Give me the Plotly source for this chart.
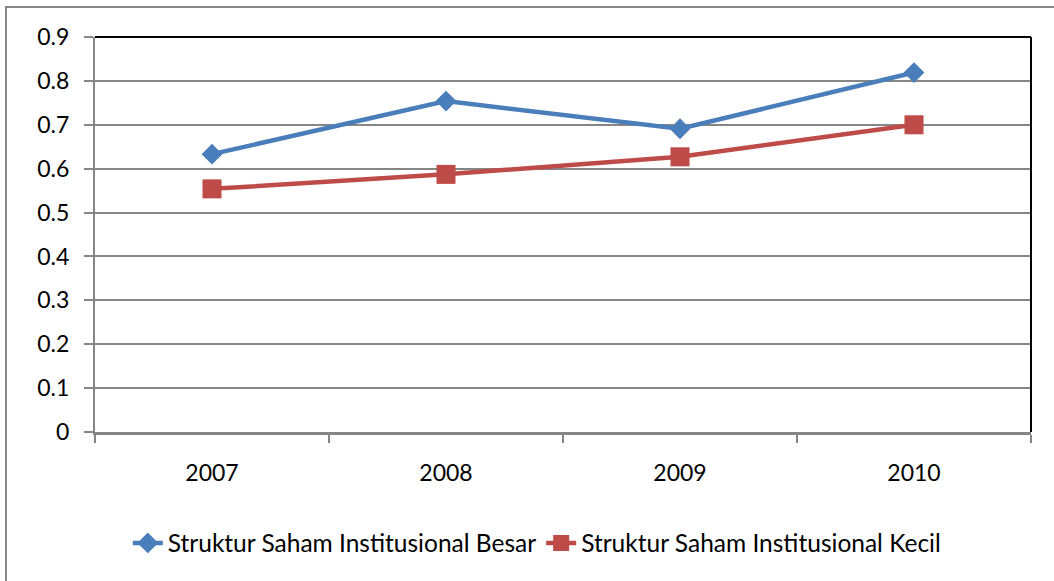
import plotly.graph_objects as go

years = ["2007", "2008", "2009", "2010"]
besar = [0.633, 0.754, 0.691, 0.819]
kecil = [0.554, 0.587, 0.627, 0.700]
y_ticks = [0, 0.1, 0.2, 0.3, 0.4, 0.5, 0.6, 0.7, 0.8, 0.9]
y_labels = ["0", "0.1", "0.2", "0.3", "0.4", "0.5", "0.6", "0.7", "0.8", "0.9"]

FONT = "Lato"
fig = go.Figure()
fig.add_trace(go.Scatter(
    x=years, y=besar, mode="lines+markers", name="Struktur Saham Institusional Besar",
    line=dict(color="#4A7EBB", width=4.5),
    marker=dict(symbol="diamond", size=16, color="#4A7EBB"),
))
fig.add_trace(go.Scatter(
    x=years, y=kecil, mode="lines+markers", name="Struktur Saham Institusional Kecil",
    line=dict(color="#BE4B48", width=4.5),
    marker=dict(symbol="square", size=19, color="#BE4B48"),
))

fig.update_layout(
    width=1054, height=581,
    margin=dict(l=95, r=23, t=37, b=149, autoexpand=False),
    paper_bgcolor="white", plot_bgcolor="white",
    font=dict(family=FONT, size=21, color="black"),
    showlegend=True,
    legend=dict(orientation="h", x=0.472, xanchor="center", y=-0.281, yanchor="middle",
                font=dict(size=24.5), itemwidth=30, traceorder="normal"),
    xaxis=dict(type="category", range=[-0.5, 3.5], tickson="boundaries",
               ticks="outside", ticklen=8, tickwidth=2, tickcolor="#868686",
               showline=True, linecolor="#868686", linewidth=3, automargin=False,
               showgrid=False, zeroline=False, ticklabelstandoff=18,
               tickfont=dict(size=23)),
    yaxis=dict(range=[0, 0.9], tickvals=y_ticks, ticktext=y_labels,
               ticks="outside", ticklen=9, tickwidth=2, tickcolor="#868686",
               showline=True, linecolor="#868686", linewidth=2, automargin=False,
               showgrid=True, gridcolor="#868686", gridwidth=2,
               zeroline=False, ticklabelstandoff=10, tickfont=dict(size=23)),
    shapes=[
        dict(type="line", xref="x domain", yref="y domain", x0=0, x1=1, y0=1, y1=1,
             line=dict(color="black", width=2)),
        dict(type="line", xref="x domain", yref="y domain", x0=1, x1=1, y0=0, y1=1,
             line=dict(color="black", width=2)),
        dict(type="rect", xref="paper", yref="paper", x0=-0.0951, x1=1.2, y0=-0.5, y1=1.0759,
             line=dict(color="#878787", width=2), layer="below"),
    ],
)

fig.write_html("out.html", config={"displayModeBar": False},
               post_script="document.body.style.margin='0';document.body.style.overflow='hidden';")
